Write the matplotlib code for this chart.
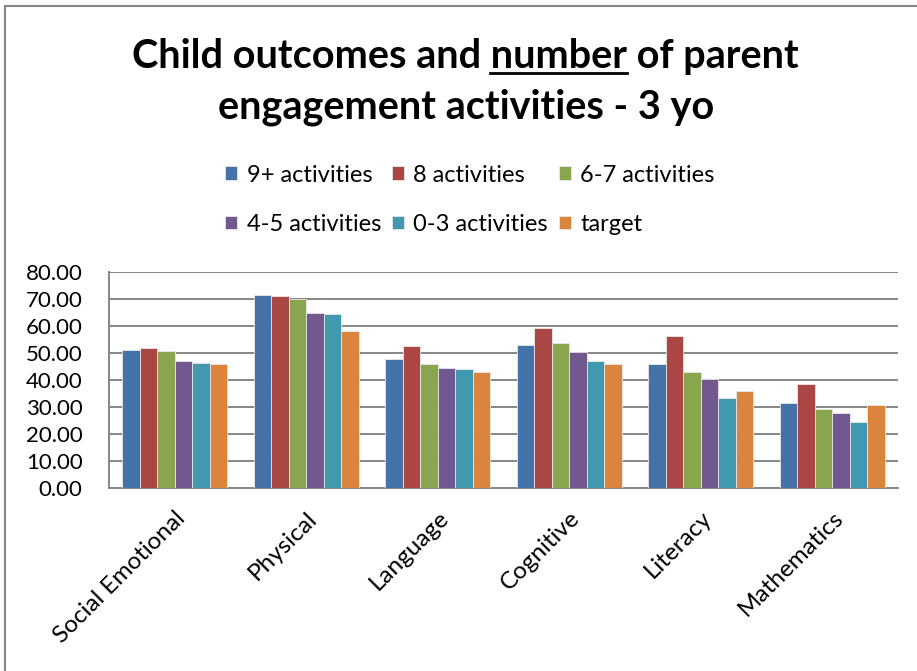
import numpy as np
import matplotlib
matplotlib.use("Agg")
import matplotlib.pyplot as plt
from matplotlib.patches import Rectangle
from matplotlib.lines import Line2D

plt.rcParams['font.family'] = ['Lato', 'DejaVu Sans']

# Outcome domains and the score for each engagement group
domains = ['Social Emotional', 'Physical', 'Language', 'Cognitive', 'Literacy', 'Mathematics']
series_names = ['9+ activities', '8 activities', '6-7 activities',
                '4-5 activities', '0-3 activities', 'target']
act_9plus = [51.1, 71.4, 47.8, 52.8, 46.1, 31.3]
act_8 = [51.7, 71.0, 52.6, 59.2, 56.3, 38.7]
act_6_7 = [50.6, 70.0, 46.1, 53.8, 43.0, 29.2]
act_4_5 = [47.0, 64.9, 44.4, 50.3, 40.2, 27.6]
act_0_3 = [46.3, 64.3, 44.0, 47.1, 33.5, 24.4]
target = [45.9, 58.0, 42.9, 45.9, 35.9, 30.9]
y_ticks = [0, 10, 20, 30, 40, 50, 60, 70, 80]

all_series = [act_9plus, act_8, act_6_7, act_4_5, act_0_3, target]
colors = ['#4572A7', '#AA4643', '#89A54E', '#71588F', '#4198AF', '#DB843D']

W, H = 917, 671
fig = plt.figure(figsize=(W / 100, H / 100), dpi=100)
ax = fig.add_axes([109 / W, 1 - 488 / H, (898 - 109) / W, (488 - 272) / H])

x = np.arange(len(domains))
n = len(all_series)
bw = 0.8 / n
bars = []
for i, (vals, col) in enumerate(zip(all_series, colors)):
    b = ax.bar(x - 0.4 + bw * (i + 0.5), vals, width=bw, color=col,
               edgecolor='#E8E8E8', linewidth=0.6, zorder=3, label=series_names[i])
    bars.append(b)

ax.set_xlim(-0.5, len(domains) - 0.5)
ax.set_ylim(0, 80)
ax.set_yticks(y_ticks)
ax.set_yticklabels([f"{v:.2f}" for v in y_ticks], fontsize=16)
ax.set_xticks(x)
ax.set_xticklabels(domains, rotation=45, ha='right', rotation_mode='anchor',
                   fontsize=17.5)
ax.yaxis.grid(True, color='#868686', linewidth=1.4, zorder=0)
ax.set_axisbelow(True)
for side in ['top', 'right']:
    ax.spines[side].set_visible(False)
for side in ['left', 'bottom']:
    ax.spines[side].set_color('#868686')
    ax.spines[side].set_linewidth(1.4)
ax.tick_params(axis='y', length=0, pad=19)
ax.tick_params(axis='x', length=0, pad=14)

# Title, with "number" underlined
title_kw = dict(fontsize=28.5, fontweight='bold', ha='center', va='baseline')
line1 = 'Child outcomes and number of parent'
t1 = fig.text(465 / W, 1 - 68 / H, line1, **title_kw)
fig.text(466 / W, 1 - 118 / H, 'engagement activities - 3 yo', **title_kw)
fig.canvas.draw()
r = fig.canvas.get_renderer()
full_bb = t1.get_window_extent(r)
tmp = fig.text(0, 0, 'Child outcomes and number', fontsize=28.5, fontweight='bold')
w_pre = tmp.get_window_extent(r).width
tmp.set_text('number')
w_num = tmp.get_window_extent(r).width
tmp.remove()
x0 = full_bb.x0 + w_pre - w_num
y_ul = (1 - 73 / H) * H
fig.add_artist(Line2D([x0 / W, (x0 + w_num) / W], [y_ul / H, y_ul / H],
                      color='black', linewidth=2, transform=fig.transFigure))

# Legend laid out in two rows of three
order = [0, 3, 1, 4, 2, 5]
fig.legend([bars[i] for i in order], [series_names[i] for i in order],
           ncol=3, loc='upper left', bbox_to_anchor=(225 / W, 1 - 164.5 / H),
           frameon=False, fontsize=17, handlelength=0.52, handleheight=0.52,
           handletextpad=0.4, columnspacing=0.45, labelspacing=1.2,
           borderpad=0, borderaxespad=0)

# Chart area border
fig.add_artist(Rectangle((5 / W, -0.1), 1.2, 1 - 6 / H + 0.1, fill=False,
                         edgecolor='#868686', linewidth=1.5,
                         transform=fig.transFigure))

fig.savefig('out.png', dpi=100)
